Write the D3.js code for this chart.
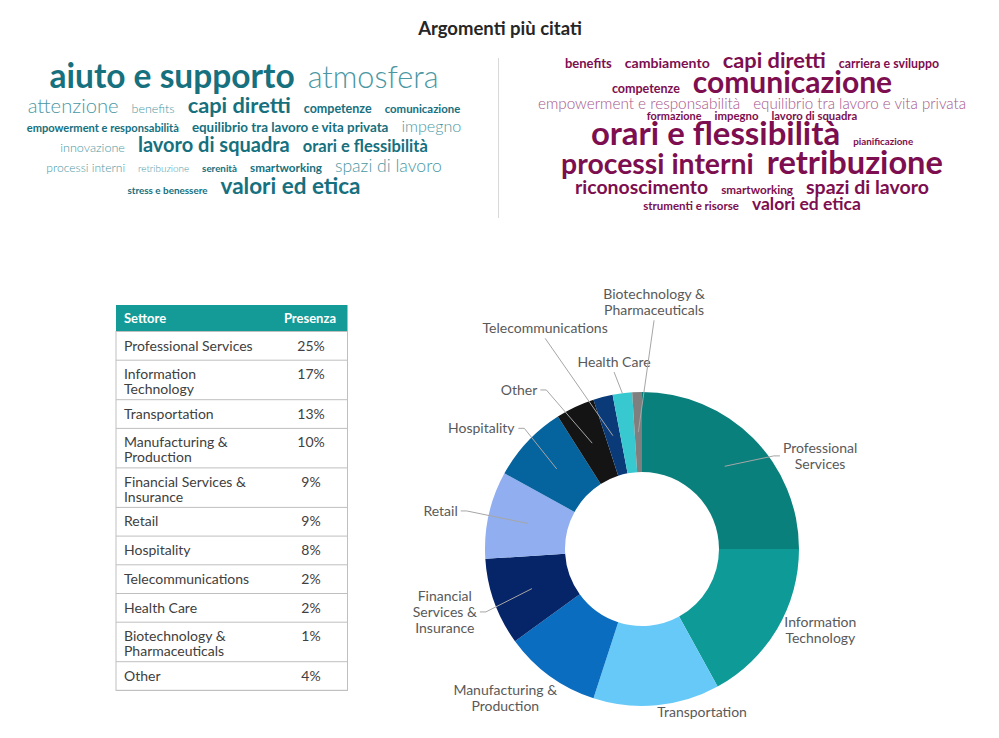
<!DOCTYPE html>
<html><head><meta charset="utf-8">
<script src="https://cdn.jsdelivr.net/npm/d3@7"></script>
<style>body{margin:0;background:#fff}svg{display:block}</style>
</head><body><svg id="c" width="999" height="738"></svg>
<script>
const title = "Argomenti più citati";
const leftWords = ["aiuto e supporto","atmosfera","attenzione","benefits","capi diretti","competenze","comunicazione","empowerment e responsabilità","equilibrio tra lavoro e vita privata","impegno","innovazione","lavoro di squadra","orari e flessibilità","processi interni","retribuzione","serenità","smartworking","spazi di lavoro","stress e benessere","valori ed etica"];
const leftScores = [33.5,30.6,20.2,12.5,21.8,12.5,11.4,11.1,13.4,16.1,12.6,20,16.5,12.1,9.9,9.8,11.7,17.6,9.9,22.5];
const leftStrong = [1,0,0,0,1,1,1,1,1,0,0,1,1,0,0,1,1,0,1,1];
const rightWords = ["benefits","cambiamento","capi diretti","carriera e sviluppo","competenze","comunicazione","empowerment e responsabilità","equilibrio tra lavoro e vita privata","formazione","impegno","lavoro di squadra","orari e flessibilità","pianificazione","processi interni","retribuzione","riconoscimento","smartworking","spazi di lavoro","strumenti e risorse","valori ed etica"];
const rightScores = [13,14.1,21.8,12.3,12.5,30,15.3,15.1,10.9,11.4,11.3,32.9,9.8,28.4,32.6,19.4,11.7,19.5,11.5,17.5];
const rightStrong = [1,1,1,1,1,1,0,0,1,1,1,1,1,1,1,1,1,1,1,1];
const tableHeader = ["Settore","Presenza"];
const sectors = ["Professional Services","Information Technology","Transportation","Manufacturing & Production","Financial Services & Insurance","Retail","Hospitality","Telecommunications","Health Care","Biotechnology & Pharmaceuticals","Other"];
const shares = [25,17,13,10,9,9,8,2,2,1,4];
const tableLabels = ["Professional Services","Information\nTechnology","Transportation","Manufacturing &\nProduction","Financial Services &\nInsurance","Retail","Hospitality","Telecommunications","Health Care","Biotechnology &\nPharmaceuticals","Other"];
const donutLabels = ["Professional\nServices","Information\nTechnology","Transportation","Manufacturing &\nProduction","Financial\nServices &\nInsurance","Retail","Hospitality","Telecommunications","Health Care","Biotechnology &\nPharmaceuticals","Other"];
const donutOrder = ["Professional Services","Information Technology","Transportation","Manufacturing & Production","Financial Services & Insurance","Retail","Hospitality","Other","Telecommunications","Health Care","Biotechnology & Pharmaceuticals"];

const sliceColors = {"Professional Services":"#0a807d","Information Technology":"#0e9b97","Transportation":"#66c9f8","Manufacturing & Production":"#0a6dc0","Financial Services & Insurance":"#062468","Retail":"#91aff0","Hospitality":"#05639e","Other":"#141414","Telecommunications":"#0a3a78","Health Care":"#38c9d0","Biotechnology & Pharmaceuticals":"#7f7f7f"};
// label layout: [angle deg clockwise from top, radius, leader side, leader target radius]
const labelLayout = {"Professional Services":[62.4,201,"left",117],"Information Technology":[114.5,196,null],"Transportation":[159.8,174,null],"Manufacturing & Production":[222.6,202,null],"Financial Services & Insurance":[252.3,207,"right",117],"Retail":[280.7,205,"right",117],"Hospitality":[306.9,201,"right",117],"Other":[322.3,201,"right",117],"Telecommunications":[336.3,241,"bottom",117],"Health Care":[351.5,189,"bottom",157],"Biotechnology & Pharmaceuticals":[2.8,247,"bottom",117]};

const FONT = "Lato, 'Open Sans', sans-serif";
const svg = d3.select("#c");
const meas = svg.append("text").attr("x",10).attr("y",10).style("font-family",FONT).style("visibility","hidden");
function measure(t,size,weight){meas.text(t).style("font-size",size+"px").style("font-weight",weight);return meas.node().getComputedTextLength();}

// title
svg.append("text").attr("x",500).attr("y",35).attr("text-anchor","middle").style("font-family",FONT).style("font-weight",700).style("font-size","18.5px").style("fill","#262626").text(title);
// separator
svg.append("line").attr("x1",498.5).attr("x2",498.5).attr("y1",58).attr("y2",218).style("stroke","#d9d9d9");

const sizeScale = d3.scaleLinear().domain([0, d3.max(leftScores.concat(rightScores))]).range([0, 33.5]);
function drawCloud(words,scores,strong,o){
  const items=words.map((w,i)=>{const fs=sizeScale(scores[i]);const fw=strong[i]?700:300;return {w,fs,fw,s:strong[i],width:measure(w,fs,fw)};});
  const lines=[];let cur=[],cw=0;
  items.forEach(it=>{const add=cur.length?cw+o.gap+it.width:it.width;if(cur.length&&add>o.maxW){lines.push(cur);cur=[it];cw=it.width;}else{cur.push(it);cw=add;}});
  if(cur.length)lines.push(cur);
  const g=svg.append("g");let y=0,pm=0;
  lines.forEach((ln,li)=>{const mx=d3.max(ln,d=>d.fs);y=li===0?o.top+o.asc*mx:y+o.desc*pm+o.asc*mx+o.lead;pm=mx;
    const tw=d3.sum(ln,d=>d.width)+o.gap*(ln.length-1);let x=o.cx-tw/2;
    ln.forEach(d=>{g.append("text").attr("x",x).attr("y",y).text(d.w).style("font-family",FONT).style("font-size",d.fs+"px").style("font-weight",d.fw).style("fill",d.s?o.c1:o.c2);x+=d.width+o.gap;});});
}
drawCloud(leftWords,leftScores,leftStrong,{gap:13,maxW:445,cx:244,top:65.1,asc:0.692,desc:0.196,lead:3.3,c1:"#16707e",c2:"#4a97a3"});
drawCloud(rightWords,rightScores,rightStrong,{gap:13,maxW:442,cx:752,top:52.9,asc:0.692,desc:0.196,lead:0,c1:"#7d0e4f",c2:"#a5558a"});
meas.remove();

// table
const tX=116,tW=231.5,tY=305,headH=26.5;
const tg=svg.append("g");
tg.append("rect").attr("x",tX).attr("y",tY).attr("width",tW).attr("height",headH).style("fill","#149b98");
tg.append("text").attr("x",124).attr("y",tY+17.5).text(tableHeader[0]).style("font-family",FONT).style("font-weight",700).style("font-size","13px").style("fill","#fff");
tg.append("text").attr("x",336).attr("y",tY+17.5).attr("text-anchor","end").text(tableHeader[1]).style("font-family",FONT).style("font-weight",700).style("font-size","13px").style("fill","#fff");
let ry=tY+headH;
sectors.forEach((s,i)=>{const lines=tableLabels[i].split("\n");const h=lines.length>1?39.5:28.7;
  lines.forEach((l,j)=>tg.append("text").attr("x",124).attr("y",ry+19+j*15).text(l).style("font-family",FONT).style("font-size","14px").style("fill","#404040"));
  tg.append("text").attr("x",311).attr("y",ry+19).attr("text-anchor","middle").text(shares[i]+"%").style("font-family",FONT).style("font-size","14px").style("fill","#404040");
  ry+=h;tg.append("line").attr("x1",tX).attr("x2",tX+tW).attr("y1",ry).attr("y2",ry).style("stroke","#bfbfbf");});
tg.append("rect").attr("x",tX).attr("y",tY+headH).attr("width",tW).attr("height",ry-tY-headH).style("fill","none").style("stroke","#bfbfbf");

// donut
const cx=642,cy=549,R=157,r0=77;
const data=donutOrder.map(n=>({name:n,v:shares[sectors.indexOf(n)]}));
const pie=d3.pie().sort(null).value(d=>d.v);
const arc=d3.arc().innerRadius(r0).outerRadius(R);
const dg=svg.append("g").attr("transform",`translate(${cx},${cy})`);
const arcs=pie(data);
dg.selectAll("path").data(arcs).join("path").attr("d",arc).style("fill",d=>sliceColors[d.data.name]);
const pol=(a,rr)=>[Math.sin(a*Math.PI/180)*rr,-Math.cos(a*Math.PI/180)*rr];
arcs.forEach(a=>{const n=a.data.name;const L=labelLayout[n];const [lx,ly]=pol(L[0],L[1]);
  const lines=donutLabels[sectors.indexOf(n)].split("\n");const lh=16;
  const t=dg.append("text").attr("text-anchor","middle").style("font-family",FONT).style("font-size","14px").style("fill","#595959");
  lines.forEach((l,j)=>t.append("tspan").attr("x",lx).attr("y",ly+5+(j-(lines.length-1)/2)*lh).text(l));
  if(L[2]){const bb=t.node().getBBox();const mid=(a.startAngle+a.endAngle)/2*180/Math.PI;const [ex,ey]=pol(mid,L[3]);let pts;
    if(L[2]==="left")pts=[[bb.x-3,ly],[bb.x-9,ly],[ex,ey]];
    else if(L[2]==="right")pts=[[bb.x+bb.width+3,ly],[bb.x+bb.width+9,ly],[ex,ey]];
    else pts=[[lx,bb.y+bb.height+2],[ex,ey]];
    dg.append("path").attr("d",d3.line()(pts)).style("fill","none").style("stroke","#a6a6a6").style("stroke-width",1);}
});
</script></body></html>
